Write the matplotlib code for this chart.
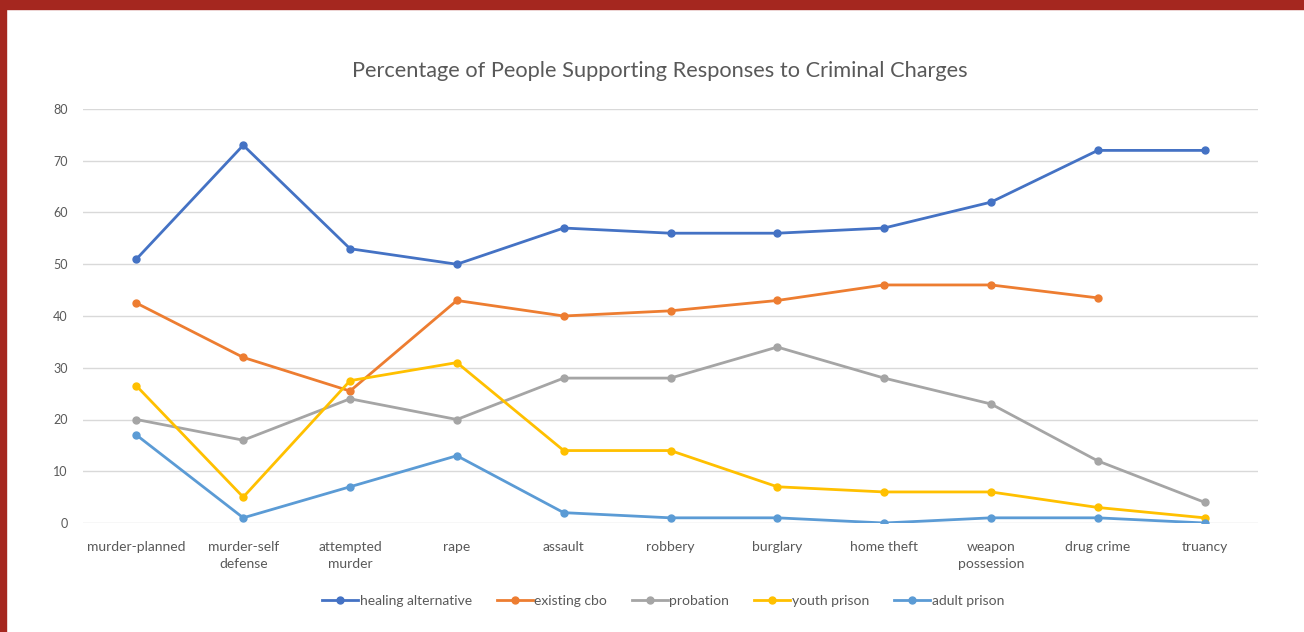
import numpy as np
import matplotlib
matplotlib.use("Agg")
import matplotlib.pyplot as plt
from matplotlib.patches import Rectangle

categories = ["murder-planned", "murder-self\ndefense", "attempted\nmurder", "rape", "assault",
              "robbery", "burglary", "home theft", "weapon\npossession", "drug crime", "truancy"]
healing_alternative = [51, 73, 53, 50, 57, 56, 56, 57, 62, 72, 72]
existing_cbo = [42.5, 32, 25.5, 43, 40, 41, 43, 46, 46, 43.5, np.nan]
probation = [20, 16, 24, 20, 28, 28, 34, 28, 23, 12, 4]
youth_prison = [26.5, 5, 27.5, 31, 14, 14, 7, 6, 6, 3, 1]
adult_prison = [17, 1, 7, 13, 2, 1, 1, 0, 1, 1, 0]
series_names = ["healing alternative", "existing cbo", "probation", "youth prison", "adult prison"]
series_colors = ["#4472C4", "#ED7D31", "#A5A5A5", "#FFC000", "#5B9BD5"]
yticks = [0, 10, 20, 30, 40, 50, 60, 70, 80]

plt.rcParams['font.family'] = ['Lato', 'DejaVu Sans']

W, H = 1304, 632
fig = plt.figure(figsize=(W / 100, H / 100), dpi=100)
fig.patch.set_facecolor("white")

# red frame (left and top)
fig.add_artist(Rectangle((0, 0), 6 / W, 1, transform=fig.transFigure, color="#A5271F", zorder=10))
fig.add_artist(Rectangle((0, 1 - 9 / H), 1, 9 / H, transform=fig.transFigure, color="#A5271F", zorder=10))

ax = fig.add_axes([83 / W, 1 - 523 / H, (1258 - 83) / W, (523 - 109) / H])
x = np.arange(len(categories))
all_series = [healing_alternative, existing_cbo, probation, youth_prison, adult_prison]
for vals, name, col in zip(all_series, series_names, series_colors):
    ax.plot(x, vals, color=col, lw=2.0, marker="o", markersize=5, label=name, zorder=3)

ax.set_xlim(-0.5, len(categories) - 0.5)
ax.set_ylim(0, 80)
ax.set_yticks(yticks)
ax.set_xticks(x)
ax.set_xticklabels(categories, fontsize=10, color="#595959", linespacing=1.45)
ax.set_yticklabels([str(t) for t in yticks], fontsize=9, color="#595959")
ax.tick_params(axis="both", length=0)
ax.tick_params(axis="x", pad=13)
ax.tick_params(axis="y", pad=11)
ax.grid(axis="y", color="#D9D9D9", lw=1.0, zorder=0)
for s in ax.spines.values():
    s.set_visible(False)

fig.text(660 / W, 1 - 71 / H, "Percentage of People Supporting Responses to Criminal Charges",
         ha="center", va="center", fontsize=15.7, color="#595959")

leg = fig.legend(loc="center", bbox_to_anchor=(663 / W, 1 - 601 / H), ncol=5, frameon=False,
                 fontsize=10, handlelength=2.6, handletextpad=0.1, columnspacing=1.8, labelcolor="#595959")

fig.savefig("out.png", dpi=100, facecolor="white")
